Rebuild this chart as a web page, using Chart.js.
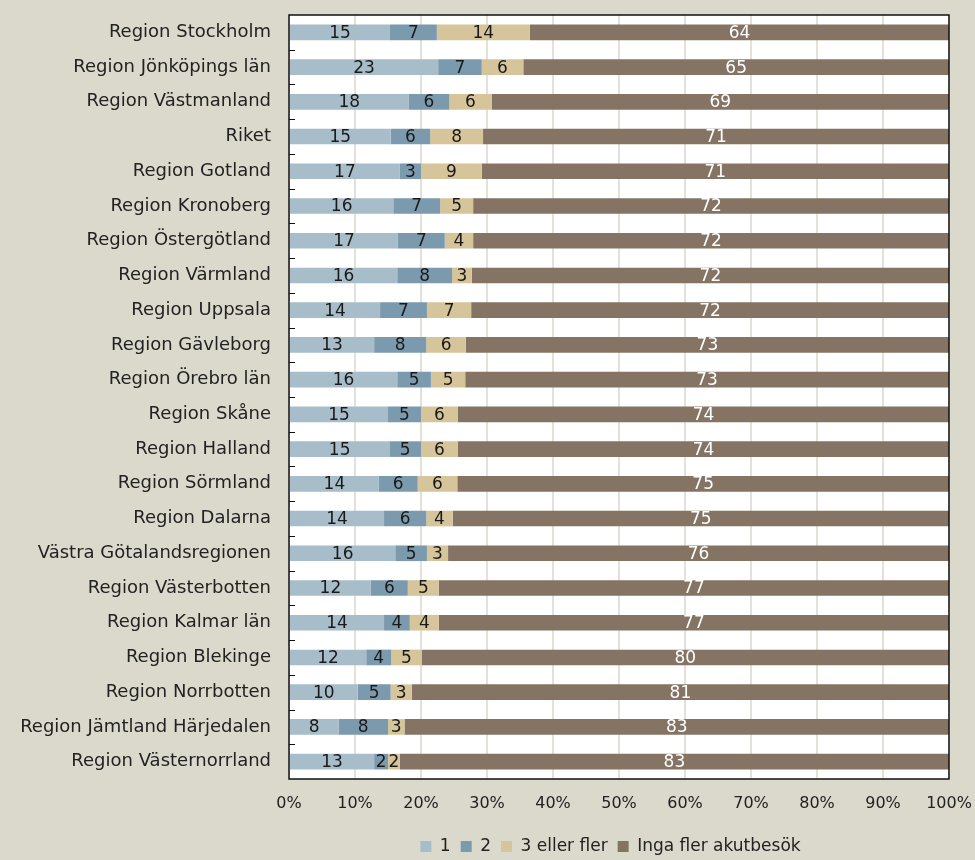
<!DOCTYPE html>
<html>
<head>
<meta charset="utf-8">
<script src="https://cdn.jsdelivr.net/npm/chart.js@4/dist/chart.umd.min.js"></script>
<style>
  html, body { margin: 0; padding: 0; background: #dbd8cc; }
  #wrap { width: 975px; height: 860px; }
</style>
</head>
<body>
<div id="wrap"><canvas id="chart" width="975" height="860"></canvas></div>
<script>
// regioner, sorterade som i originalet
const regioner = [
    'Region Stockholm', 'Region Jönköpings län', 'Region Västmanland', 'Riket',
    'Region Gotland', 'Region Kronoberg', 'Region Östergötland', 'Region Värmland',
    'Region Uppsala', 'Region Gävleborg', 'Region Örebro län', 'Region Skåne',
    'Region Halland', 'Region Sörmland', 'Region Dalarna', 'Västra Götalandsregionen',
    'Region Västerbotten', 'Region Kalmar län', 'Region Blekinge', 'Region Norrbotten',
    'Region Jämtland Härjedalen', 'Region Västernorrland'
];

// andel (%) per antal akutbesök
const ett = [15.3, 22.6, 18.1, 15.4, 16.8, 15.8, 16.5, 16.4, 13.8, 12.9, 16.4, 15.0, 15.2, 13.6, 14.4, 16.1, 12.4, 14.4, 11.7, 10.4, 7.5, 12.9];
const tva = [7.1, 6.6, 6.2, 6.0, 3.2, 7.1, 7.1, 8.3, 7.1, 7.9, 5.1, 5.0, 4.8, 5.9, 6.4, 4.8, 5.6, 3.9, 3.8, 5.0, 7.5, 2.1];
const treFler = [14.1, 6.3, 6.4, 8.0, 9.2, 5.0, 4.3, 3.0, 6.7, 6.0, 5.2, 5.6, 5.6, 6.0, 4.0, 3.2, 4.7, 4.4, 4.6, 3.2, 2.5, 1.8];
const ingaFler = [63.5, 64.5, 69.3, 70.6, 70.8, 72.1, 72.1, 72.3, 72.4, 73.2, 73.3, 74.4, 74.4, 74.5, 75.2, 75.9, 77.3, 77.3, 79.9, 81.4, 82.5, 83.2];

const xTicks = [0, 10, 20, 30, 40, 50, 60, 70, 80, 90, 100];

const fontFamily = '"DejaVu Sans", sans-serif';

// etiketter mitt i varje stapel
const barLabels = {
    id: 'barLabels',
    afterDatasetsDraw(chart) {
        const ctx = chart.ctx;
        ctx.save();
        ctx.font = '17px ' + fontFamily;
        ctx.textAlign = 'center';
        ctx.textBaseline = 'middle';
        chart.data.datasets.forEach((ds, i) => {
            const meta = chart.getDatasetMeta(i);
            meta.data.forEach((bar, j) => {
                const p = bar.getCenterPoint();
                ctx.fillStyle = i === 3 ? '#ffffff' : '#1a1a1a';
                ctx.fillText(Math.round(ds.data[j]), p.x, p.y + 1);
            });
        });
        ctx.restore();
    }
};

// ram runt diagramytan + små streck på y-axeln (inåt)
const frame = {
    id: 'frame',
    afterDatasetsDraw(chart) {
        const a = chart.chartArea;
        const ctx = chart.ctx;
        ctx.save();
        ctx.strokeStyle = '#111';
        ctx.lineWidth = 1.5;
        ctx.strokeRect(a.left, a.top, a.right - a.left, a.bottom - a.top);
        const step = (a.bottom - a.top) / regioner.length;
        ctx.lineWidth = 1;
        for (let i = 1; i < regioner.length; i++) {
            const y = Math.round(a.top + i * step) + 0.5;
            ctx.beginPath();
            ctx.moveTo(a.left, y);
            ctx.lineTo(a.left + 6, y);
            ctx.stroke();
        }
        ctx.restore();
    }
};

const bg = {
    id: 'bg',
    afterLayout(chart) {
        // legenden centreras under diagramytan
        const lg = chart.legend;
        const h = lg.bottom - lg.top;
        lg.left = 246;
        lg.right = 975;
        lg.top = 828;
        lg.bottom = 828 + h;
    },
    beforeDraw(chart) {
        const ctx = chart.ctx;
        ctx.save();
        ctx.fillStyle = '#dbd8cc';
        ctx.fillRect(0, 0, chart.width, chart.height);
        const a = chart.chartArea;
        ctx.fillStyle = '#ffffff';
        ctx.fillRect(a.left, a.top, a.right - a.left, a.bottom - a.top);
        ctx.restore();
    }
};

function serie(label, data, color) {
    return {
        label: label,
        data: data,
        backgroundColor: color,
        borderWidth: 0,
        barPercentage: 0.9,
        categoryPercentage: 0.5
    };
}

const ctx = document.getElementById('chart');
new Chart(ctx, {
    type: 'bar',
    data: {
        labels: regioner,
        datasets: [
            serie('1', ett, '#a7bdc9'),
            serie('2', tva, '#7b9aad'),
            serie('3 eller fler', treFler, '#d6c49a'),
            serie('Inga fler akutbesök', ingaFler, '#857464')
        ]
    },
    options: {
        indexAxis: 'y',
        responsive: false,
        animation: false,
        layout: { padding: { top: 15, right: 26, left: 0, bottom: 0 } },
        scales: {
            x: {
                stacked: true,
                min: 0,
                max: 100,
                afterBuildTicks: (axis) => { axis.ticks = xTicks.map(v => ({ value: v })); },
                ticks: {
                    callback: (v) => v + '%',
                    color: '#222',
                    font: { family: fontFamily, size: 16 },
                    padding: 15
                },
                grid: { color: '#e4e1d9', lineWidth: 2, drawTicks: false },
                border: { display: false },
                afterFit: (axis) => {
                    axis.height = 44;
                    axis.paddingLeft = 0;
                    axis.paddingRight = 0;
                }
            },
            y: {
                stacked: true,
                ticks: {
                    color: '#222',
                    font: { family: fontFamily, size: 18 },
                    padding: 10,
                    autoSkip: false
                },
                grid: { display: false },
                border: { display: false },
                afterFit: (axis) => {
                    axis.width = 289;
                    axis.paddingTop = 0;
                    axis.paddingBottom = 0;
                }
            }
        },
        plugins: {
            legend: {
                position: 'bottom',
                labels: {
                    color: '#222',
                    font: { family: fontFamily, size: 17 },
                    boxWidth: 11,
                    boxHeight: 11,
                    padding: 10
                }
            },
            tooltip: { enabled: false }
        }
    },
    plugins: [bg, barLabels, frame]
});
</script>
</body>
</html>
